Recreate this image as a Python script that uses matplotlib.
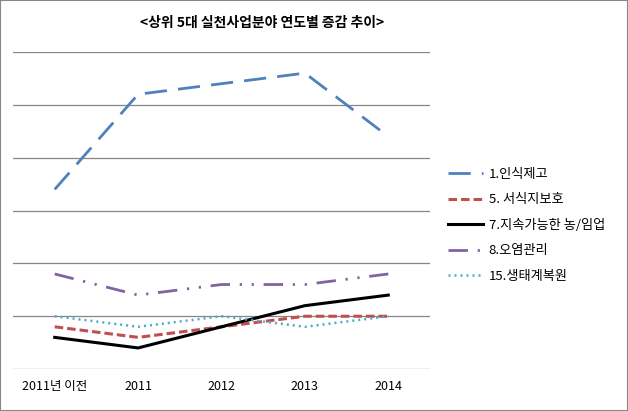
import matplotlib
matplotlib.use("Agg")
import matplotlib.pyplot as plt
from matplotlib.patches import Rectangle

plt.rcParams['font.family'] = ['Noto Sans CJK KR', 'DejaVu Sans']

# categories and series
years = ['2011년 이전', '2011', '2012', '2013', '2014']
awareness = [34, 52, 54, 56, 44]      # 1.인식제고
habitat = [8, 6, 8, 10, 10]           # 5. 서식지보호
farming = [6, 4, 8, 12, 14]           # 7.지속가능한 농/임업
pollution = [18, 14, 16, 16, 18]      # 8.오염관리
restore = [10, 8, 10, 8, 10]          # 15.생태계복원

fig = plt.figure(figsize=(6.28, 4.11), dpi=100)
ax = fig.add_axes([0.0207, 0.102, 0.664, 0.7715])

x = range(len(years))
ax.plot(x, awareness, color='#4F81BD', lw=2, dashes=(8, 4), label='1.인식제고')
ax.plot(x, habitat, color='#C0504D', lw=2.2, dashes=(2.8, 1.3), label='5. 서식지보호')
ax.plot(x, farming, color='black', lw=2.2, label='7.지속가능한 농/임업')
ax.plot(x, pollution, color='#8064A2', lw=2, dashes=(7, 3.5, 0.8, 3.5, 0.8, 3.5), label='8.오염관리')
ax.plot(x, restore, color='#4BACC6', lw=1.8, dashes=(0.8, 1.6), label='15.생태계복원')

ax.set_xlim(-0.5, len(years) - 0.5)
ax.set_ylim(0, 60)
ax.set_yticks(range(0, 61, 10))
ax.set_yticklabels([])
ax.set_xticks(list(x))
ax.set_xticklabels(years, fontsize=9)
ax.tick_params(length=0, pad=8)
ax.grid(axis='y', color='#868686', lw=0.9)
ax.set_axisbelow(True)
for s in ax.spines.values():
    s.set_visible(False)

fig.text(0.417, 0.944, '<상위 5대 실천사업분야 연도별 증감 추이>', ha='center', va='center',
         fontsize=10, fontweight='bold')

fig.legend(loc='center left', bbox_to_anchor=(0.695, 0.452), frameon=False,
           fontsize=9.5, handlelength=2.6, labelspacing=0.95, handletextpad=0.45)

fig.patches.append(Rectangle((0, 0), 1, 1, transform=fig.transFigure, fill=False,
                             edgecolor='#888888', lw=1.5))

fig.savefig('out.png', dpi=100)
